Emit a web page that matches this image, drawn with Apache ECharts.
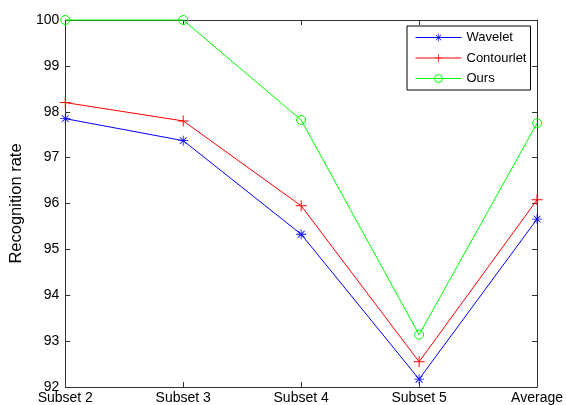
<!DOCTYPE html>
<html>
<head>
<meta charset="utf-8">
<script src="https://cdn.jsdelivr.net/npm/echarts@6/dist/echarts.min.js"></script>
<style>html,body{margin:0;padding:0;background:#fff;}#c{width:566px;height:405px;}</style>
</head>
<body>
<div id="c"></div>
<script>
const categories = ['Subset 2', 'Subset 3', 'Subset 4', 'Subset 5', 'Average'];
const wavelet = [97.85, 97.37, 95.33, 92.17, 95.66];
const contourlet = [98.2, 97.8, 95.95, 92.55, 96.08];
const ours = [100, 100, 97.82, 93.14, 97.75];
const yTicks = [92, 93, 94, 95, 96, 97, 98, 99, 100];
const seriesNames = ['Wavelet', 'Contourlet', 'Ours'];
const seriesColors = ['#0000ff', '#ff0000', '#00ff00'];

const starPath = 'path://M4.6,0 H5.4 V10 H4.6 Z M0,4.6 H10 V5.4 H0 Z M1.3,1.9 L1.9,1.3 L8.7,8.1 L8.1,8.7 Z M8.7,1.9 L8.1,1.3 L1.3,8.1 L1.9,8.7 Z';
const plusPath = 'path://M4.55,0 H5.45 V10 H4.55 Z M0,4.55 H10 V5.45 H0 Z';

const font = 'Liberation Sans, Arial, Helvetica, sans-serif';
const axisColor = '#333';

const chart = echarts.init(document.getElementById('c'), null, {renderer: 'canvas'});
const yBase = {
  type: 'value', min: yTicks[0], max: yTicks[yTicks.length - 1], interval: 1,
  splitLine: {show: false},
  axisLine: {show: true, lineStyle: {color: axisColor, width: 1}},
  axisTick: {show: true, inside: true, length: 5, lineStyle: {color: axisColor}}
};
const xBase = {
  type: 'category', data: categories, boundaryGap: false,
  axisLine: {show: true, onZero: false, lineStyle: {color: axisColor, width: 1}},
  axisTick: {show: true, inside: true, length: 5, alignWithLabel: true, lineStyle: {color: axisColor}},
  splitLine: {show: false}
};
function itemStyleFor(color, empty) {
  return empty ? {color: 'rgba(255,255,255,0)', borderColor: color, borderWidth: 1} : {color: color, borderWidth: 0};
}
function mkSeries(name, data, color, symbol, size, empty) {
  return {
    name: name, type: 'line', data: data, color: color,
    lineStyle: {width: 1, color: color},
    symbol: symbol, symbolSize: size,
    itemStyle: itemStyleFor(color, empty),
    emphasis: {disabled: true},
    showAllSymbol: true, clip: false
  };
}
chart.setOption({
  animation: false,
  backgroundColor: '#fff',
  textStyle: {fontFamily: font},
  grid: {left: 62, right: 24, top: 20, bottom: 18, containLabel: false},
  legend: {
    orient: 'vertical', left: 407, top: 26,
    data: seriesNames.map((n, i) => ({
      name: n,
      lineStyle: {color: seriesColors[i], width: 1, type: 'solid'},
      itemStyle: itemStyleFor(seriesColors[i], i === 2)
    })),
    itemWidth: 46, itemHeight: 10, itemGap: 7.5,
    padding: [5, 4, 5, 8],
    borderColor: '#000', borderWidth: 1, borderRadius: 0,
    backgroundColor: '#fff',
    textStyle: {color: '#000', fontSize: 13, fontFamily: font}
  },
  xAxis: [
    Object.assign({}, xBase, {position: 'bottom',
      axisLabel: {color: '#000', fontSize: 14, fontFamily: font, margin: 4, showMinLabel: true, showMaxLabel: true, interval: 0}}),
    Object.assign({}, xBase, {position: 'top', axisLabel: {show: false}})
  ],
  yAxis: [
    Object.assign({}, yBase, {position: 'left',
      name: 'Recognition rate', nameLocation: 'middle', nameGap: 33, nameRotate: 90,
      nameTextStyle: {color: '#000', fontSize: 16.5, fontFamily: font},
      axisLabel: {color: '#000', fontSize: 14, fontFamily: font, margin: 6}}),
    Object.assign({}, yBase, {position: 'right', axisLabel: {show: false}})
  ],
  series: [
    mkSeries(seriesNames[0], wavelet, seriesColors[0], starPath, 10, false),
    mkSeries(seriesNames[1], contourlet, seriesColors[1], plusPath, 11, false),
    mkSeries(seriesNames[2], ours, seriesColors[2], 'circle', 9, true)
  ]
});
</script>
</body>
</html>
